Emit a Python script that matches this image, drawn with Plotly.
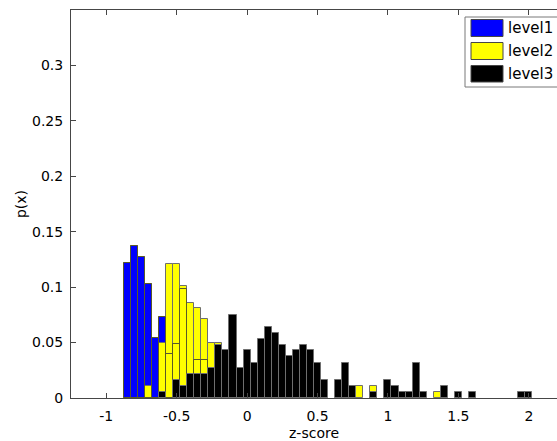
import plotly.graph_objects as go

# ---- data ----
bin_width = 0.05

level1_x = [-0.85, -0.80, -0.75, -0.70, -0.65, -0.60, -0.55, -0.50, -0.45, -0.35, -0.30]
level1_p = [0.122, 0.137, 0.127, 0.103, 0.054, 0.073, 0.040, 0.049, 0.098, 0.034, 0.034]

level2_x = [-0.70, -0.60, -0.55, -0.50, -0.45, -0.40, -0.35, -0.30, -0.25, -0.20, 0.80, 0.90, 1.35]
level2_p = [0.011, 0.050, 0.121, 0.121, 0.101, 0.086, 0.081, 0.071, 0.050, 0.050, 0.0105, 0.0105, 0.0055]

level3_x = [-0.60, -0.50, -0.45, -0.40, -0.35, -0.30, -0.25, -0.20, -0.15, -0.10, -0.05, 0.00,
            0.05, 0.10, 0.15, 0.20, 0.25, 0.30, 0.35, 0.40, 0.45, 0.50, 0.55, 0.65, 0.70, 0.75,
            0.90, 1.00, 1.05, 1.10, 1.15, 1.20, 1.25, 1.40, 1.50, 1.60, 1.95, 2.00]
level3_p = [0.0055, 0.0165, 0.011, 0.0215, 0.0215, 0.0215, 0.027, 0.048, 0.043, 0.0745, 0.027, 0.043,
            0.032, 0.0535, 0.064, 0.059, 0.048, 0.0375, 0.043, 0.048, 0.043, 0.032, 0.0165, 0.0165, 0.032, 0.011,
            0.0055, 0.0165, 0.011, 0.0055, 0.0055, 0.032, 0.0055, 0.011, 0.0055, 0.0055, 0.0055, 0.0055]

series_names = ["level1", "level2", "level3"]
series_colors = ["#0000ff", "#ffff00", "#000000"]

x_tickvals = [-1, -0.5, 0, 0.5, 1, 1.5, 2]
x_ticktext = ["-1", "-0.5", "0", "0.5", "1", "1.5", "2"]
y_tickvals = [0, 0.05, 0.1, 0.15, 0.2, 0.25, 0.3]
y_ticktext = ["0", "0.05", "0.1", "0.15", "0.2", "0.25", "0.3"]

# ---- figure geometry ----
W, H = 557, 441
ML, MR, MT, MB = 71, 0, 10, 43
PW, PH = W - ML - MR, H - MT - MB

def px_x(px):
    return (px - ML) / PW

def px_y(py):
    return (H - MB - py) / PH

edge = "rgb(110,110,110)"
FONT = "DejaVu Sans"

fig = go.Figure()
fig.add_trace(go.Bar(x=level1_x, y=level1_p, width=bin_width, name=series_names[0],
                     marker=dict(color=series_colors[0], line=dict(color=edge, width=1)),
                     showlegend=False))
fig.add_trace(go.Bar(x=level2_x, y=level2_p, width=bin_width, name=series_names[1],
                     marker=dict(color=series_colors[1], line=dict(color=edge, width=1)),
                     showlegend=False))
# edges of the level1 bars that show through the level2 bars
fig.add_trace(go.Bar(x=level1_x, y=level1_p, width=bin_width, name=series_names[0],
                     marker=dict(color="rgba(0,0,0,0)", line=dict(color="rgb(90,90,40)", width=1)),
                     showlegend=False, hoverinfo="skip"))
fig.add_trace(go.Bar(x=level3_x, y=level3_p, width=bin_width, name=series_names[2],
                     marker=dict(color=series_colors[2], line=dict(color=edge, width=1)),
                     showlegend=False))

# ---- legend (MATLAB style box) ----
shapes = [dict(type="rect", xref="paper", yref="paper",
               x0=px_x(465), x1=px_x(575), y0=px_y(87), y1=px_y(17),
               line=dict(color="rgb(120,120,120)", width=1), fillcolor="white", layer="above")]
annotations = []
rows = [(19.5, 36.5), (42.5, 59.5), (65.5, 82)]
for (t, b), name, col in zip(rows, series_names, series_colors):
    shapes.append(dict(type="rect", xref="paper", yref="paper",
                       x0=px_x(471), x1=px_x(503), y0=px_y(b), y1=px_y(t),
                       line=dict(color="rgb(70,70,70)", width=1), fillcolor=col, layer="above"))
    annotations.append(dict(xref="paper", yref="paper", x=px_x(506), y=px_y((t + b) / 2),
                            text=name, showarrow=False, xanchor="left", yanchor="middle",
                            font=dict(family=FONT, size=15, color="black")))

axis_col = "rgb(70,70,70)"
fig.update_layout(
    width=W, height=H,
    margin=dict(l=ML, r=MR, t=MT, b=MB, autoexpand=False),
    paper_bgcolor="white", plot_bgcolor="white",
    barmode="overlay", bargap=0,
    font=dict(family=FONT, size=14, color="black"),
    shapes=shapes, annotations=annotations,
    xaxis=dict(range=[-1.25, 2.2], tickvals=x_tickvals, ticktext=x_ticktext,
               ticks="inside", ticklen=5, tickcolor=axis_col, showline=True, linecolor=axis_col,
               linewidth=1, mirror="ticks", showgrid=False, zeroline=False,
               ticklabelstandoff=5, automargin=False,
               title=dict(text="z-score", standoff=5, font=dict(size=14))),
    yaxis=dict(range=[0, 0.35], tickvals=y_tickvals, ticktext=y_ticktext,
               ticks="inside", ticklen=5, tickcolor=axis_col, showline=True, linecolor=axis_col,
               linewidth=1, mirror=False, showgrid=False, zeroline=False,
               ticklabelstandoff=4, automargin=False,
               title=dict(text="p(x)", standoff=2, font=dict(size=14))),
)

fig.write_html("out.html",
               config={"displayModeBar": False},
               post_script="document.body.style.margin='0';document.body.style.overflow='hidden';")
